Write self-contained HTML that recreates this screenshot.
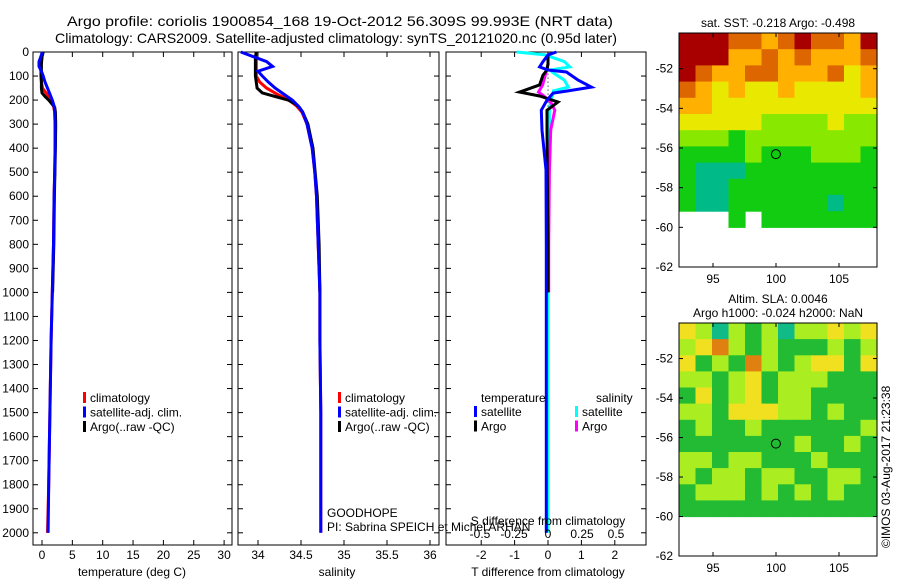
<!DOCTYPE html>
<html><head><meta charset="utf-8">
<style>
html,body{margin:0;padding:0;background:#fff;}
svg{display:block;font-family:"Liberation Sans",sans-serif;}
</style></head>
<body>
<svg id="fig" width="900" height="580" viewBox="0 0 900 580" xmlns="http://www.w3.org/2000/svg">
<text x="340" y="26" font-size="14" text-anchor="middle" textLength="546" lengthAdjust="spacingAndGlyphs">Argo profile: coriolis 1900854_168 19-Oct-2012 56.309S 99.993E (NRT data)</text>
<text x="336" y="43" font-size="14" text-anchor="middle" textLength="562" lengthAdjust="spacingAndGlyphs">Climatology: CARS2009. Satellite-adjusted climatology: synTS_20121020.nc (0.95d later)</text>
<g id="plots"></g>
<text x="327" y="517" font-size="12">GOODHOPE</text>
<text x="327" y="531" font-size="12">PI: Sabrina SPEICH et Michel ARHAN</text>
<text x="0" y="0" font-size="12" transform="translate(890,548) rotate(-90)">©IMOS 03-Aug-2017 21:23:38</text>
</svg>
<script>
// ---- profile data ----
const depths = [0,20,40,60,80,100,125,150,175,200,225,250,300,400,500,600,800,1000,1200,1500,1800,2000];
const tempSat = [0.05,-0.2,-0.5,-0.5,-0.1,0.2,0.5,0.9,1.3,1.7,2.0,2.1,2.15,2.15,2.1,2.0,1.9,1.7,1.5,1.3,1.1,1.0];
const tempClim = [0.1,0.0,-0.1,-0.2,-0.2,-0.2,-0.1,0.1,0.8,1.5,1.9,2.1,2.15,2.15,2.1,2.0,1.9,1.7,1.5,1.3,1.1,0.9];
const argoDepths = [0,20,50,100,150,170,185,200,215,230,250,300,400,600,800,1000];
const tempArgo = [0.2,0.0,-0.1,-0.1,-0.1,0.0,0.5,1.1,1.6,2.1,2.2,2.25,2.2,2.05,1.95,1.75];
const salSat = [33.8,33.95,34.1,34.17,34.0,34.05,34.12,34.2,34.3,34.4,34.47,34.52,34.57,34.63,34.66,34.68,34.7,34.72,34.72,34.73,34.73,34.73];
const salClim = [33.98,33.98,33.98,33.98,33.98,33.98,34.02,34.1,34.22,34.36,34.45,34.51,34.57,34.63,34.66,34.68,34.7,34.72,34.72,34.73,34.73,34.73];
const salArgo = [33.98,33.97,33.97,33.97,33.99,34.05,34.2,34.35,34.43,34.48,34.52,34.58,34.64,34.69,34.71,34.72];
const diffDepths = [0,12,40,62,75,83,117,146,162,171,200,242,325,490,800,1200,1600,2000];
const dTsat = [0.25,0,-0.15,-0.25,0,0.55,0.9,1.3,0.6,0.15,-0.03,-0.2,-0.18,-0.06,-0.05,-0.05,-0.05,-0.05];
const dSsat = [-0.23,-0.02,0.12,0.16,0.02,0.03,0.12,0.15,0.04,0.04,0.02,0.01,0.01,0,0,0,0,0];
const diffArgoDepths = [17,50,75,96,137,167,183,208,242,325,500,800,1000];
const dTargo = [0,0,-0.03,-0.15,-0.25,-0.85,-0.25,0.3,-0.03,-0.03,-0.02,0,0];
const dSargo = [0,0,-0.01,-0.02,-0.04,-0.07,-0.03,0.02,0.05,0.02,0.01,0.005,0.005];
const depthTicks = [0,100,200,300,400,500,600,700,800,900,1000,1100,1200,1300,1400,1500,1600,1700,1800,1900,2000];
const tempTicks = [0,5,10,15,20,25,30];
const salTicks = [34,34.5,35,35.5,36];
const salTickLabels = ["34","34.5","35","35.5","36"];
const tdTicks = [-2,-1,0,1,2];
const sdTicks = [-0.5,-0.25,0,0.25,0.5];
const sdTickLabels = ["-0.5","-0.25","0","0.25","0.5"];
// ---- map data (value classes: -1 = no data) ----
const sstGrid = [
[6,6,6,5,5,4,5,6,5,5,4,6],
[6,6,6,4,4,5,4,5,4,4,4,5],
[6,5,4,4,5,5,4,4,4,5,3,4],
[5,4,3,4,3,3,4,3,3,3,3,4],
[4,4,3,3,3,3,3,3,3,3,3,3],
[3,3,3,3,3,2,2,2,2,3,2,2],
[2,2,2,1,2,2,2,2,2,2,2,2],
[1,1,1,1,2,1,1,1,2,2,2,1],
[1,0,0,0,1,1,1,1,1,1,1,1],
[1,0,0,1,1,1,1,1,1,1,1,1],
[1,0,0,1,1,1,1,1,1,0,1,1],
[-1,-1,-1,1,-1,1,1,1,1,1,1,1]];
const slaGrid = [
[3,2,0,2,1,2,0,2,2,3,2,3],
[2,3,4,2,1,2,1,1,1,2,1,2],
[3,1,2,1,4,2,1,2,3,3,1,3],
[2,2,1,2,3,1,2,2,2,1,1,1],
[1,3,1,2,3,1,2,2,1,1,1,1],
[2,2,1,3,3,3,2,2,1,2,1,1],
[1,2,1,1,2,1,1,1,1,1,1,2],
[1,1,1,1,1,1,1,2,1,1,2,1],
[2,2,1,2,2,1,1,1,2,1,1,1],
[2,1,2,2,1,2,2,1,1,2,2,1],
[1,2,2,2,1,2,1,2,1,2,1,1],
[1,1,1,1,1,1,1,1,1,1,1,1]];
const sstColors = ["#00bb88","#11cc11","#88e800","#e8e800","#ffb000","#dd6600","#a80000"];
const slaColors = ["#11bb88","#22bb33","#aaee22","#f0e020","#e08010"];
const latTicks = [-52,-54,-56,-58,-60,-62];
const lonTicks = [95,100,105];
const argoLon = 99.993, argoLat = -56.309;

const NS = "http://www.w3.org/2000/svg";
const root = document.getElementById("plots");
function mk(tag, attrs, parent){const e=document.createElementNS(NS,tag);for(const k in attrs)e.setAttribute(k,attrs[k]);(parent||root).appendChild(e);return e;}
function txt(x,y,s,attrs,parent){const e=mk("text",Object.assign({x:x,y:y,"font-size":12},attrs||{}),parent);e.textContent=s;return e;}

const Y0=52, Y1=545;
const yD = d => 52 + d*0.2404;

function panel(name,x0,x1){
  const g=mk("g",{});
  
  
  const r=mk("rect",{x:x0,y:Y0,width:x1-x0,height:Y1-Y0,fill:"none",stroke:"#000","stroke-width":1},g);
  
  
  depthTicks.forEach(d=>{
    const y=yD(d);
    mk("line",{x1:x0,x2:x0+5,y1:y,y2:y,stroke:"#000"},g);
    mk("line",{x1:x1,x2:x1-5,y1:y,y2:y,stroke:"#000"},g);
  });
  return g;
}
function line(g,name,ds,vs,xf,color,w){
  const pts=ds.map((d,i)=>xf(vs[i]).toFixed(1)+","+yD(d).toFixed(1)).join(" ");
  const p=mk("polyline",{points:pts,fill:"none",stroke:color,"stroke-width":w||3,"stroke-linejoin":"miter"},g);
  
  
}
function legend(g,x,y,items){
  items.forEach((it,i)=>{
    const yy=y+i*14.5;
    const m=mk("rect",{x:x,y:yy-6,width:3,height:11,fill:it[1]},g);
    
    
    const t=txt(x+7,yy+4,it[0],{"font-size":12},g);
    
    
  });
}

// Panel 1: temperature
const xT = v => 42 + v*6.07;
const g1=panel("temperature-panel",33,232);
depthTicks.forEach(d=>{const t=txt(29,yD(d)+4,String(d),{"text-anchor":"end"});});
tempTicks.forEach(v=>{const x=xT(v);mk("line",{x1:x,x2:x,y1:Y0,y2:Y0+5,stroke:"#000"},g1);mk("line",{x1:x,x2:x,y1:Y1,y2:Y1-5,stroke:"#000"},g1);
  const t=txt(x,559,String(v),{"text-anchor":"middle"});});
line(g1,"temperature-climatology",depths,tempClim,xT,"#ff0000");
line(g1,"temperature-argo",argoDepths,tempArgo,xT,"#000000");
line(g1,"temperature-satellite",depths,tempSat,xT,"#0000ff");
legend(g1,83,398,[["climatology","#ff0000"],["satellite-adj. clim.","#0000ff"],["Argo(..raw -QC)","#000000"]]);
{const t=txt(132,576,"temperature (deg C)",{"text-anchor":"middle"});}

// Panel 2: salinity
const xS = v => 258 + (v-34)*86;
const g2=panel("salinity-panel",238,439);
salTicks.forEach((v,i)=>{const x=xS(v);mk("line",{x1:x,x2:x,y1:Y0,y2:Y0+5,stroke:"#000"},g2);mk("line",{x1:x,x2:x,y1:Y1,y2:Y1-5,stroke:"#000"},g2);
  const t=txt(x,559,salTickLabels[i],{"text-anchor":"middle"});});
line(g2,"salinity-climatology",depths,salClim,xS,"#ff0000");
line(g2,"salinity-argo",argoDepths,salArgo,xS,"#000000");
line(g2,"salinity-satellite",depths,salSat,xS,"#0000ff");
legend(g2,338,398,[["climatology","#ff0000"],["satellite-adj. clim.","#0000ff"],["Argo(..raw -QC)","#000000"]]);
{const t=txt(337,576,"salinity",{"text-anchor":"middle"});}

// Panel 3: differences
const xTd = v => 548 + v*33.4;
const xSd = v => 548 + v*136;
const g3=panel("difference-panel",446,646);
tdTicks.forEach(v=>{const x=xTd(v);mk("line",{x1:x,x2:x,y1:Y0,y2:Y0+5,stroke:"#000"},g3);mk("line",{x1:x,x2:x,y1:Y1,y2:Y1-5,stroke:"#000"},g3);
  const t=txt(x,559,String(v),{"text-anchor":"middle"});});
mk("line",{x1:548,x2:548,y1:yD(40),y2:yD(230),stroke:"#000","stroke-dasharray":"1,3"},g3);
line(g3,"s-diff-satellite",diffDepths,dSsat,xSd,"#00ffff");
line(g3,"s-diff-argo",diffArgoDepths,dSargo,xSd,"#ff00ff");
line(g3,"t-diff-argo",diffArgoDepths,dTargo,xTd,"#000000");
line(g3,"t-diff-satellite",diffDepths,dTsat,xTd,"#0000ff");
{const t=txt(481,402,"temperature");}
{const t=txt(596,402,"salinity");}
legend(g3,474,412,[["satellite","#0000ff"],["Argo","#000000"]]);
legend(g3,575,412,[["satellite","#00ffff"],["Argo","#ff00ff"]]);
{const t=txt(548,525,"S difference from climatology",{"text-anchor":"middle"});}
sdTicks.forEach((v,i)=>{const t=txt(xSd(v),538,sdTickLabels[i],{"text-anchor":"middle"});});
{const t=txt(548,576,"T difference from climatology",{"text-anchor":"middle"});}

// Maps
function map(name,top,bottom,grid,colors,titles){
  const g=mk("g",{});
  
  
  const L=679,R=877;
  const lonX = lon => 713 + (lon-95)*12.6;
  const latY = lat => top + (-50.2 - lat)*((bottom-top)/11.8);
  const rows=grid.length, cols=grid[0].length;
  const yTop=latY(-50.2), yBot=latY(-60);
  const cw=(R-L)/cols, ch=(yBot-yTop)/rows;
  grid.forEach((row,r)=>row.forEach((v,c)=>{
    if(v<0) return;
    const cell=mk("rect",{x:(L+c*cw).toFixed(1),y:(yTop+r*ch).toFixed(1),width:(cw+0.6).toFixed(1),height:(ch+0.6).toFixed(1),fill:colors[v]},g);
    
    
  }));
  const fr=mk("rect",{x:L,y:top,width:R-L,height:bottom-top,fill:"none",stroke:"#000"},g);
  
  
  latTicks.forEach(lat=>{const y=latY(lat);mk("line",{x1:L,x2:L+4,y1:y,y2:y,stroke:"#000"},g);mk("line",{x1:R,x2:R-4,y1:y,y2:y,stroke:"#000"},g);
    const t=txt(673,y+4,String(lat),{"text-anchor":"end"},g);});
  lonTicks.forEach(lon=>{const x=lonX(lon);mk("line",{x1:x,x2:x,y1:bottom,y2:bottom-4,stroke:"#000"},g);mk("line",{x1:x,x2:x,y1:top,y2:top+4,stroke:"#000"},g);
    const t=txt(x,bottom+16,String(lon),{"text-anchor":"middle"},g);});
  const c=mk("circle",{cx:lonX(argoLon),cy:latY(argoLat),r:4.5,fill:"none",stroke:"#000","stroke-width":1},g);
  
  
  titles.forEach((s,i)=>{const t=txt(778,top-(titles.length-1-i)*14-6,s,{"text-anchor":"middle"},g);});
}
map("sst-map",33,267,sstGrid,sstColors,["sat. SST: -0.218 Argo: -0.498"]);
map("sla-map",323,556,slaGrid,slaColors,["Altim. SLA: 0.0046","Argo h1000: -0.024 h2000: NaN"]);
</script>
</body></html>
